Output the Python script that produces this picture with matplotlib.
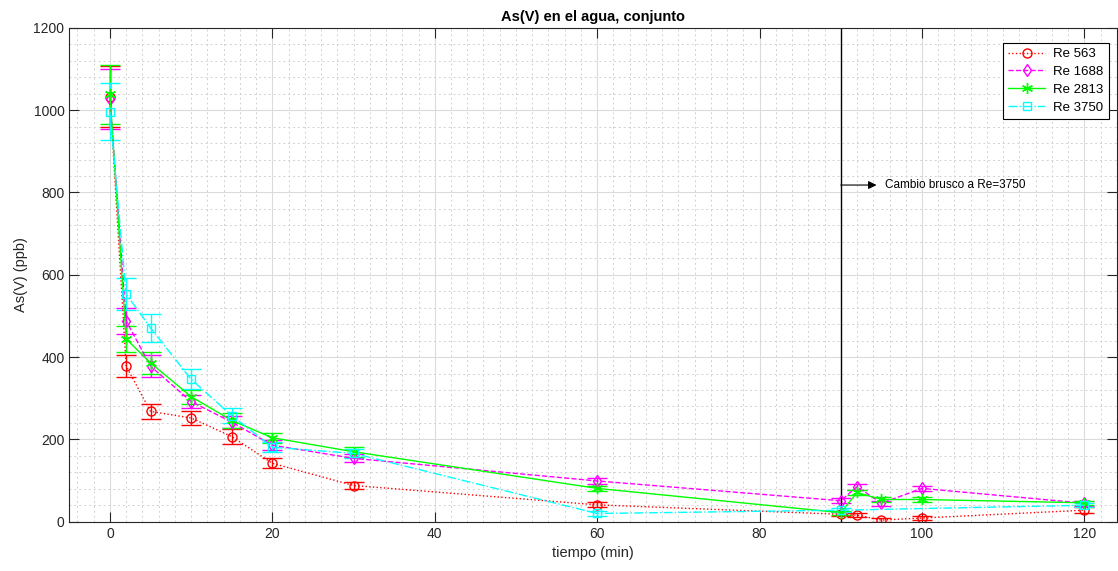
import matplotlib.pyplot as plt
from matplotlib.lines import Line2D
from matplotlib.ticker import MultipleLocator

plt.rcParams['font.family'] = ['Liberation Sans', 'DejaVu Sans']

# tiempo (min)
t_all = [0, 2, 5, 10, 15, 20, 30, 60, 90, 92, 95, 100, 120]
t_3750 = [0, 2, 5, 10, 15, 20, 30, 60, 90, 120]

# As(V) (ppb) and error
re563 = [1033, 378, 268, 252, 207, 142, 88, 41, 18, 16, 4, 9, 28]
re563_err = [73, 27, 18, 17, 18, 12, 8, 6, 5, 5, 4, 5, 7]
re1688 = [1028, 488, 378, 292, 242, 186, 154, 99, 51, 85, 45, 81, 45]
re1688_err = [73, 32, 26, 16, 14, 12, 10, 7, 6, 7, 6, 7, 6]
re2813 = [1038, 444, 386, 304, 246, 204, 170, 81, 22, 71, 54, 54, 46]
re2813_err = [72, 32, 26, 17, 18, 12, 12, 6, 5, 6, 5, 5, 5]
re3750 = [996, 553, 471, 346, 258, 181, 166, 20, 28, 40]
re3750_err = [69, 38, 34, 24, 18, 12, 10, 6, 5, 5]

asterisk = (6, 2, 0)
series = [
    (t_all, re563, re563_err, 'Re 563', (1, 0, 0), ':', 'o', 6.5),
    (t_all, re1688, re1688_err, 'Re 1688', (1, 0, 1), '--', 'd', 6.5),
    (t_all, re2813, re2813_err, 'Re 2813', (0, 1, 0), '-', asterisk, 8),
    (t_3750, re3750, re3750_err, 'Re 3750', (0, 1, 1), '-.', 's', 6),
]

fig = plt.figure(figsize=(11.18, 5.71), dpi=100)
ax = fig.add_axes([0.062, 0.0863, 0.937, 0.865])

handles = []
for x, y, e, lbl, c, ls, mk, ms in series:
    ax.errorbar(x, y, yerr=e, color=c, linestyle=ls, marker=mk, markersize=ms,
                markerfacecolor='none', markeredgecolor=c, markeredgewidth=1,
                linewidth=1, elinewidth=1, capsize=7.5, capthick=1)
    handles.append(Line2D([], [], color=c, linestyle=ls, marker=mk, markersize=ms,
                          markerfacecolor='none', markeredgecolor=c, linewidth=1,
                          label=lbl))

ax.axvline(90, color='k', linewidth=1)
ax.annotate('', xy=(94.4, 818), xytext=(90, 818),
            arrowprops=dict(arrowstyle='-|>', color='k', lw=0.8,
                            mutation_scale=12, shrinkA=0, shrinkB=0))
ax.text(95.4, 818, 'Cambio brusco a Re=3750', fontsize=8.5, va='center')

ax.set_xlim(-5, 124)
ax.set_ylim(0, 1200)
ax.xaxis.set_major_locator(MultipleLocator(20))
ax.xaxis.set_minor_locator(MultipleLocator(2))
ax.yaxis.set_major_locator(MultipleLocator(200))
ax.yaxis.set_minor_locator(MultipleLocator(40))
ax.grid(which='major', color=(0.86, 0.86, 0.86), linestyle='-', linewidth=0.8)
ax.grid(which='minor', color=(0.82, 0.82, 0.82), linestyle=(0, (2, 3)), linewidth=0.7)
ax.set_axisbelow(True)
ax.tick_params(which='major', direction='in', length=7, top=True, right=True,
               labelsize=10, colors=(0.15, 0.15, 0.15))
ax.tick_params(which='minor', length=0)
for s in ax.spines.values():
    s.set_color((0.15, 0.15, 0.15))

ax.set_title('As(V) en el agua, conjunto', fontsize=10.5, fontweight='bold', pad=5)
ax.set_xlabel('tiempo (min)', fontsize=10.5, color=(0.15, 0.15, 0.15))
ax.set_ylabel('As(V) (ppb)', fontsize=10.5, color=(0.15, 0.15, 0.15))

leg = ax.legend(handles=handles, loc='upper right', bbox_to_anchor=(0.9985, 0.983),
                fontsize=9.5, fancybox=False, framealpha=1, edgecolor='k',
                handlelength=2.8, handletextpad=0.6, borderpad=0.4,
                labelspacing=0.42)
leg.get_frame().set_linewidth(0.8)

fig.savefig('out.png', dpi=100)
